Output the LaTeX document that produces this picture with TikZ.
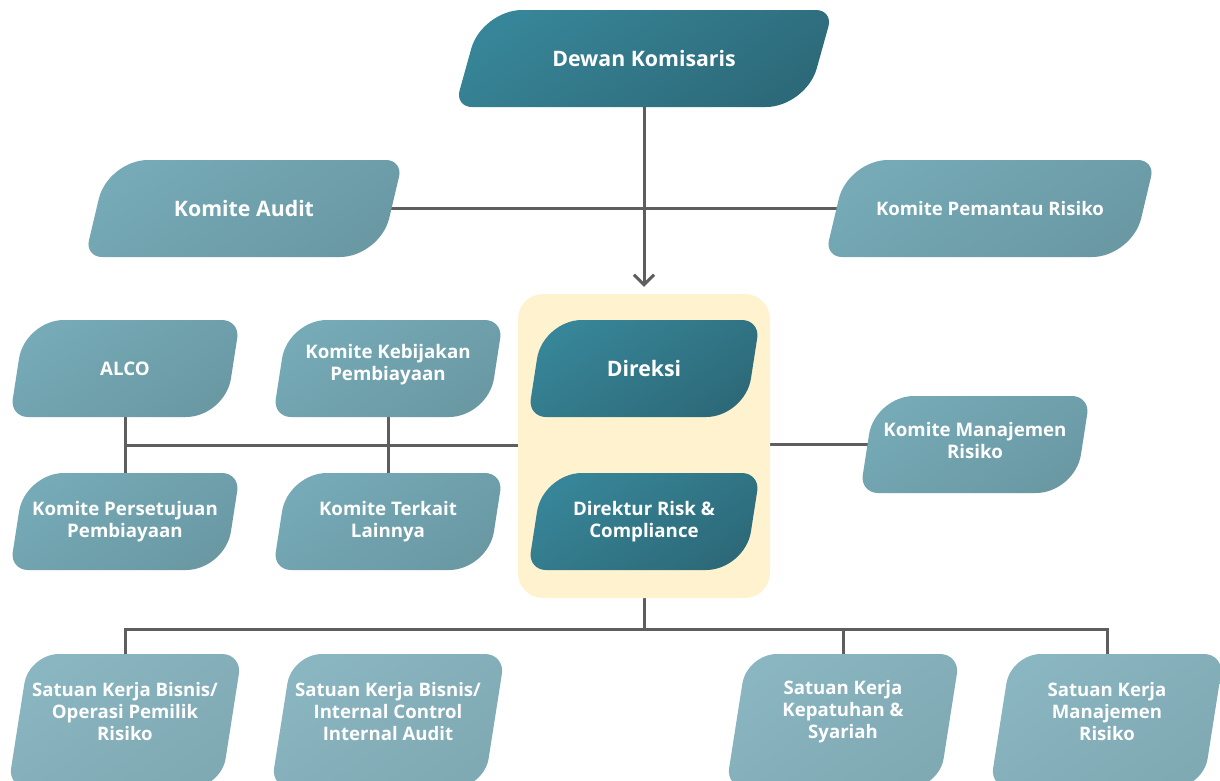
\documentclass[tikz,border=0pt]{standalone}
\usepackage{fontspec}
\setmainfont{Open Sans}
\usetikzlibrary{calc,arrows.meta}
\pgfdeclarelayer{bg}
\pgfsetlayers{bg,main}

\definecolor{darkA}{HTML}{378598}
\definecolor{darkB}{HTML}{2D6A79}
\definecolor{midA}{HTML}{75AAB6}
\definecolor{midB}{HTML}{6A99A4}
\definecolor{lightA}{HTML}{8AB6C1}
\definecolor{lightB}{HTML}{7FA9B3}
\definecolor{groupfill}{HTML}{FFF3CF}
\definecolor{linkgray}{HTML}{5E5E5E}

% slant of the boxes, corner radii and their Bezier handles (set per group of boxes)
\newcommand{\boxgeom}[3]{%
  \def\skw{#1}\def\rbig{#2}\def\rsmall{#3}%
  \pgfmathsetmacro\hbig{0.45*#2}\pgfmathsetmacro\hsmall{0.45*#3}}

\tikzset{
  darkbox/.style={top color=darkA, bottom color=darkB, shading angle=35},
  midbox/.style={top color=midA, bottom color=midB, shading angle=35},
  lightbox/.style={top color=lightA, bottom color=lightB, shading angle=35},
  lbl/.style={inner sep=0pt, align=center, text=white},
  bigtxt/.style={font=\bfseries\fontsize{21.3}{26}\selectfont},
  smalltxt/.style={font=\bfseries\fontsize{18.7}{22}\selectfont},
  unittxt/.style={font=\bfseries\fontsize{18.6}{22}\selectfont},
  link/.style={draw=linkgray, line width=3pt},
  group/.style={fill=groupfill, rounded corners=25pt, inner sep=0pt},
}

% one rounded corner: coming from corner #1, round corner #2, leave towards #3
% #4 radius, #5 handle length
\newcommand{\rcorner}[5]{%
  -- ($(#2)!#4pt!(#1)$) .. controls ($(#2)!#5pt!(#1)$) and ($(#2)!#5pt!(#3)$) .. ($(#2)!#4pt!(#3)$)}

% #1 name, #2 left, #3 top, #4 right, #5 bottom, #6 fill style,
% #7 label options, #8 text, #9 extra depth of the outline below the node
\newcommand{\orgbox}[9]{%
  \pgfmathsetmacro\bxl{#2}\pgfmathsetmacro\bxt{#3}%
  \pgfmathsetmacro\bxr{#4}\pgfmathsetmacro\bxb{#5+#9}%
  \coordinate (#1-TL) at (\bxl+\skw,\bxt);
  \coordinate (#1-TR) at (\bxr,\bxt);
  \coordinate (#1-BR) at (\bxr-\skw,\bxb);
  \coordinate (#1-BL) at (\bxl,\bxb);
  \path[#6] ($(#1-TL)!\rbig pt!(#1-TR)$)
     \rcorner{#1-TL}{#1-TR}{#1-BR}{\rsmall}{\hsmall}
     \rcorner{#1-TR}{#1-BR}{#1-BL}{\rbig}{\hbig}
     \rcorner{#1-BR}{#1-BL}{#1-TL}{\rsmall}{\hsmall}
     \rcorner{#1-BL}{#1-TL}{#1-TR}{\rbig}{\hbig} -- cycle;
  \node[lbl, minimum width={#4-#2}, minimum height={#5-#3}]
     (#1) at ({(#2+#4)/2},{(#3+#5)/2}) {};
  \node[lbl, #7] at (#1.center) {#8};
}

\begin{document}
\begin{tikzpicture}[x=1pt, y=-1pt]
\useasboundingbox (0,0) rectangle (1220,780);
\clip (0,0) rectangle (1220,780);

% board and committees
\boxgeom{27}{40}{17}
\orgbox{dk}{455}{10}{833}{107}{darkbox}{bigtxt}{Dewan Komisaris}{0}
\boxgeom{23}{40}{17}
\orgbox{ka}{85}{160}{403}{257}{midbox}{bigtxt}{Komite Audit}{0}
\orgbox{kp}{825}{160}{1155}{257}{midbox}{font=\bfseries\fontsize{18.6}{22}\selectfont}{Komite Pemantau Risiko}{0}

% directors group
\node[group, minimum width=252, minimum height=304] (grp) at (644,446) {};
\boxgeom{15}{39}{18}
\orgbox{dir}{528}{320}{760}{417}{darkbox}{bigtxt}{Direksi}{0}
\orgbox{drc}{528}{473}{760}{570}{darkbox}{smalltxt}{Direktur Risk \&\\Compliance}{0}

% executive committees
\orgbox{alco}{10}{320}{240}{417}{midbox}{smalltxt}{ALCO}{0}
\orgbox{kkp}{273}{320}{503}{417}{midbox}{smalltxt, yshift=4pt}{Komite Kebijakan\\Pembiayaan}{0}
\orgbox{kpp}{10}{473}{240}{570}{midbox}{smalltxt}{Komite Persetujuan\\Pembiayaan}{0}
\orgbox{ktl}{273}{473}{503}{570}{midbox}{smalltxt}{Komite Terkait\\Lainnya}{0}
\orgbox{kmr}{860}{396}{1090}{493}{midbox}{smalltxt, yshift=4pt}{Komite Manajemen\\Risiko}{0}

% working units
\boxgeom{21}{30}{20}
\orgbox{s1}{8}{654}{242}{770}{lightbox}{unittxt}{Satuan Kerja Bisnis/\\Operasi Pemilik\\Risiko}{18}
\orgbox{s2}{271}{654}{505}{770}{lightbox}{unittxt}{Satuan Kerja Bisnis/\\Internal Control\\Internal Audit}{18}
\orgbox{s3}{726}{654}{960}{770}{lightbox}{unittxt}{Satuan Kerja\\Kepatuhan \&\\Syariah}{18}
\orgbox{s4}{990}{654}{1224}{770}{lightbox}{unittxt}{Satuan Kerja\\Manajemen\\Risiko}{18}

% connectors behind the boxes
\begin{pgfonlayer}{bg}
  \draw[link, -{Straight Barb[length=10pt,width=20pt]}, shorten >=7pt] (dk.south) -- (grp.north);
  \draw[link] (ka.center) -- (kp.center);
  \draw[link] (alco.south) -- (kpp.north);
  \draw[link] (kkp.south) -- (ktl.north);
  \coordinate (jl) at ($(alco.south)!.5!(kpp.north)$);
  \draw[link] (jl) -- (jl -| grp.west);
  \draw[link] (grp.east |- kmr.center) -- (kmr.center);
  \coordinate (bus) at (644,629);
  \draw[link] (grp.south) -- (grp.south |- bus);
  \draw[link] (s1.north) -- (s1.north |- bus) -- (s4.north |- bus) -- (s4.north);
  \draw[link] (s3.north) -- (s3.north |- bus);
\end{pgfonlayer}
\end{tikzpicture}
\end{document}
